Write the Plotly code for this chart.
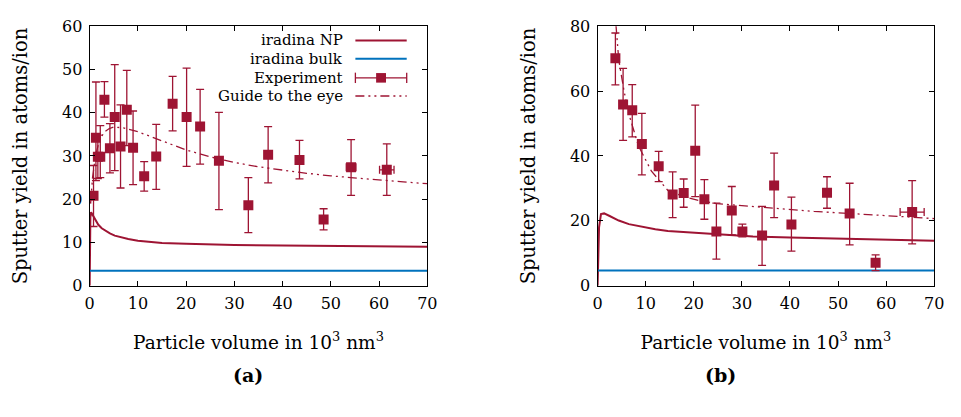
import plotly.graph_objects as go

# ---------------- data: panel (a) ----------------
a_exp_x = [0.8, 1.3, 1.7, 2.2, 3.06, 4.2, 5.2, 6.4, 7.7, 9.0, 11.3, 13.8, 17.2, 20.1, 22.9, 26.8, 32.9, 37.0, 43.5, 48.5, 54.2, 61.6]
a_exp_y = [20.8, 34.2, 29.8, 29.8, 43.0, 31.8, 39.0, 32.2, 40.7, 31.9, 25.3, 29.9, 42.1, 39.0, 36.8, 28.9, 18.6, 30.3, 29.1, 15.3, 27.4, 26.8]
a_exp_lo = [13.7, 24.3, 24.8, 25.0, 39.0, 26.1, 26.6, 22.6, 32.4, 23.4, 21.9, 22.3, 35.8, 27.6, 28.1, 17.6, 12.3, 23.8, 24.7, 12.9, 20.9, 20.9]
a_exp_hi = [27.8, 47.1, 34.8, 37.0, 47.2, 37.5, 51.1, 41.8, 49.8, 40.4, 28.7, 37.3, 48.4, 50.3, 45.4, 40.1, 25.0, 36.8, 33.6, 17.8, 33.8, 32.8]
a_exp_xerr = [0, 0, 0, 0, 0, 0, 0, 0, 0, 0, 0, 0, 0, 0, 0, 0, 0, 0, 0, 0, 1.0, 1.5]

a_np_x = [0, 0.05, 0.15, 0.3, 0.5, 0.8, 1.2, 1.8, 2.5, 3.3, 4.2, 5.2, 6.5, 8, 10, 12.5, 15, 20, 25, 30, 40, 50, 60, 70]
a_np_y = [0, 12.0, 15.8, 17.0, 16.6, 15.8, 15.0, 14.1, 13.3, 12.7, 12.1, 11.6, 11.2, 10.8, 10.4, 10.1, 9.9, 9.7, 9.55, 9.45, 9.3, 9.15, 9.05, 9.0]

a_bulk_x = [0, 70]
a_bulk_y = [3.5, 3.5]

a_guide_x = [0.2, 0.6, 1.2, 2.0, 3.0, 4.0, 5.0, 7, 10, 13, 17, 20, 25, 30, 35, 40, 45, 50, 55, 60, 65, 70]
a_guide_y = [19.0, 25.0, 30.0, 33.5, 35.5, 36.3, 36.7, 36.5, 35.6, 34.3, 32.6, 31.4, 29.8, 28.5, 27.5, 26.7, 26.0, 25.4, 24.9, 24.4, 24.0, 23.6]

# ---------------- data: panel (b) ----------------
b_exp_x = [3.7, 5.3, 7.2, 9.2, 12.7, 15.6, 17.9, 20.3, 22.2, 24.7, 27.9, 30.1, 34.2, 36.7, 40.3, 47.7, 52.4, 57.8, 65.4]
b_exp_y = [70.1, 55.9, 54.1, 43.7, 36.8, 28.1, 28.6, 41.6, 26.7, 16.7, 23.2, 16.7, 15.5, 30.9, 18.9, 28.7, 22.3, 7.1, 22.7]
b_exp_lo = [61.9, 44.8, 45.9, 34.2, 32.1, 21.0, 24.2, 27.5, 20.5, 8.2, 15.7, 15.1, 6.3, 21.0, 10.7, 23.9, 12.6, 4.7, 12.9]
b_exp_hi = [77.9, 67.0, 62.0, 53.1, 41.4, 35.1, 32.9, 55.7, 32.7, 25.5, 30.6, 19.0, 24.5, 40.9, 27.3, 33.6, 31.6, 9.5, 32.4]
b_exp_xerr = [0, 0, 0, 0, 0, 0, 0, 0, 0, 0, 0, 0, 0, 0, 0, 0.6, 0, 0, 2.5]

b_np_x = [0, 0.1, 0.3, 0.7, 1.35, 2.5, 4.4, 6.5, 9.2, 12, 14.6, 20, 25, 32.3, 40, 52.4, 60, 70]
b_np_y = [0, 10.0, 18.0, 22.1, 22.3, 21.5, 20.1, 19.0, 18.1, 17.4, 16.9, 16.4, 15.9, 15.2, 14.9, 14.5, 14.2, 13.9]

b_bulk_x = [0, 70]
b_bulk_y = [4.7, 4.7]

b_guide_x = [3.4, 3.9, 4.4, 5.5, 6.5, 8.5, 11.2, 14.6, 18, 21, 24.8, 30, 33.7, 39.1, 45, 52.4, 58, 62.9, 69, 70]
b_guide_y = [88, 79.4, 69.6, 60.0, 52.9, 43.1, 35.3, 29.4, 27.4, 26.3, 25.3, 24.7, 24.3, 23.5, 22.9, 22.3, 21.8, 21.4, 20.8, 20.7]

x_ticks = [0, 10, 20, 30, 40, 50, 60, 70]
a_y_ticks = [0, 10, 20, 30, 40, 50, 60]
b_y_ticks = [0, 20, 40, 60, 80]

legend_labels = ["iradina NP", "iradina bulk", "Experiment", "Guide to the eye"]

RED = "#9E1433"
BLUE = "#0072BD"
FONT = "DejaVu Serif, Liberation Serif, serif"
GUIDE_DASH = "9px,4px,2px,4px,2px,4px"

fig = go.Figure()


def add_panel(xa, ya, ex, ey, elo, ehi, exerr, npx, npy, bx, by, gx, gy):
    fig.add_trace(go.Scatter(x=npx, y=npy, mode="lines", line=dict(color=RED, width=2),
                             xaxis=xa, yaxis=ya, showlegend=False))
    fig.add_trace(go.Scatter(x=bx, y=by, mode="lines", line=dict(color=BLUE, width=2),
                             xaxis=xa, yaxis=ya, showlegend=False))
    fig.add_trace(go.Scatter(x=gx, y=gy, mode="lines", line=dict(color=RED, width=1.3, dash=GUIDE_DASH),
                             xaxis=xa, yaxis=ya, showlegend=False))
    fig.add_trace(go.Scatter(
        x=ex, y=ey, mode="markers",
        marker=dict(symbol="square", size=10, color=RED),
        error_y=dict(type="data", symmetric=False,
                     array=[h - v for h, v in zip(ehi, ey)],
                     arrayminus=[v - l for l, v in zip(elo, ey)],
                     color=RED, thickness=1.3, width=4),
        error_x=dict(type="data", array=exerr, color=RED, thickness=1.3, width=4),
        xaxis=xa, yaxis=ya, showlegend=False, cliponaxis=True))


add_panel("x", "y", a_exp_x, a_exp_y, a_exp_lo, a_exp_hi, a_exp_xerr,
          a_np_x, a_np_y, a_bulk_x, a_bulk_y, a_guide_x, a_guide_y)
add_panel("x2", "y2", b_exp_x, b_exp_y, b_exp_lo, b_exp_hi, b_exp_xerr,
          b_np_x, b_np_y, b_bulk_x, b_bulk_y, b_guide_x, b_guide_y)

W, H = 961, 417
TICK_SIZE = 16
XTITLE_SIZE = 18.5
YTITLE_SIZE = 19.5
ax_common = dict(showline=True, linecolor="black", linewidth=1.2, mirror="ticks",
                 ticks="inside", ticklen=5, tickcolor="black", tickwidth=1,
                 showgrid=False, zeroline=False, ticklabelstandoff=3,
                 tickfont=dict(family=FONT, size=TICK_SIZE, color="black"))

xtitle = "Particle volume in 10<sup>3</sup> nm<sup>3</sup>"
ytitle = "Sputter yield in atoms/ion"
ydom = [1 - 290 / H, 1 - 18 / H]
fig.update_layout(
    width=W, height=H, margin=dict(l=0, r=0, t=0, b=0),
    paper_bgcolor="white", plot_bgcolor="white",
    font=dict(family=FONT, size=TICK_SIZE, color="black"),
    xaxis=dict(domain=[86 / W, 429 / W], range=[0, 70], tickvals=x_ticks, anchor="y",
               title=dict(text=xtitle, standoff=23, font=dict(family=FONT, size=XTITLE_SIZE)), **ax_common),
    yaxis=dict(domain=ydom, range=[0, 60], tickvals=a_y_ticks, anchor="x",
               title=dict(text=ytitle, standoff=29, font=dict(family=FONT, size=YTITLE_SIZE)), **ax_common),
    xaxis2=dict(domain=[602 / W, 944 / W], range=[0, 70], tickvals=x_ticks, anchor="y2",
                title=dict(text=xtitle, standoff=23, font=dict(family=FONT, size=XTITLE_SIZE)), **ax_common),
    yaxis2=dict(domain=ydom, range=[0, 80], tickvals=b_y_ticks, anchor="x2",
                title=dict(text=ytitle, standoff=29, font=dict(family=FONT, size=YTITLE_SIZE)), **ax_common),
)

# manual legend in panel (a): text right-aligned, sample on the right
rows_y = [0.945, 0.875, 0.801, 0.731]
tx, sx0, sx1 = 0.755, 0.787, 0.939
for lbl, yy in zip(legend_labels, rows_y):
    fig.add_annotation(xref="x domain", yref="y domain", x=tx, y=yy, text=lbl, showarrow=False,
                       xanchor="right", yanchor="middle", font=dict(family=FONT, size=15, color="black"))
fig.add_shape(type="line", xref="x domain", yref="y domain", x0=sx0, x1=sx1, y0=rows_y[0], y1=rows_y[0],
              line=dict(color=RED, width=2))
fig.add_shape(type="line", xref="x domain", yref="y domain", x0=sx0, x1=sx1, y0=rows_y[1], y1=rows_y[1],
              line=dict(color=BLUE, width=2))
fig.add_shape(type="line", xref="x domain", yref="y domain", x0=sx0, x1=sx1, y0=rows_y[2], y1=rows_y[2],
              line=dict(color=RED, width=1.3))
for cx in (sx0, sx1):
    fig.add_shape(type="line", xref="x domain", yref="y domain", x0=cx, x1=cx,
                  y0=rows_y[2] - 0.02, y1=rows_y[2] + 0.02, line=dict(color=RED, width=1.3))
mx = (sx0 + sx1) / 2
fig.add_shape(type="rect", xref="x domain", yref="y domain", x0=mx - 0.0146, x1=mx + 0.0146,
              y0=rows_y[2] - 0.0184, y1=rows_y[2] + 0.0184, fillcolor=RED, line=dict(width=0))
fig.add_shape(type="line", xref="x domain", yref="y domain", x0=sx0, x1=sx1, y0=rows_y[3], y1=rows_y[3],
              line=dict(color=RED, width=1.3, dash=GUIDE_DASH))

fig.add_annotation(xref="paper", yref="paper", x=230 / W, y=1 - 397 / H, text="<b>(a)</b>", showarrow=False,
                   font=dict(family=FONT, size=19, color="black"))
fig.add_annotation(xref="paper", yref="paper", x=745 / W, y=1 - 397 / H, text="<b>(b)</b>", showarrow=False,
                   font=dict(family=FONT, size=19, color="black"))

fig.write_html("out.html")
